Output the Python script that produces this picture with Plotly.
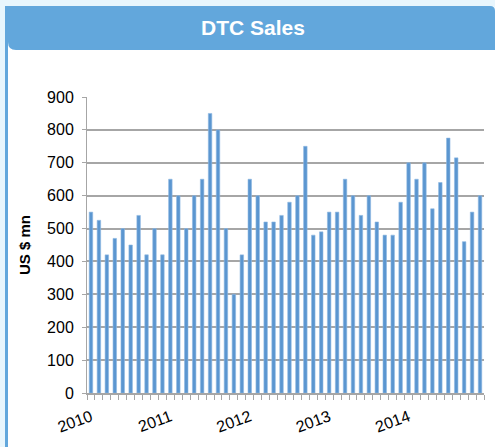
import plotly.graph_objects as go

# ---- data ----
months = list(range(50))
sales = [550, 525, 420, 470, 500, 450, 540, 420, 500, 420,
         650, 600, 500, 600, 650, 850, 800, 500, 300, 420,
         650, 600, 520, 520, 540, 580, 600, 750, 480, 490,
         550, 550, 650, 600, 540, 600, 520, 480, 480, 580,
         700, 650, 700, 560, 640, 775, 715, 460, 550, 600]
year_ticks = [0, 10, 20, 30, 40]
year_labels = ["2010", "2011", "2012", "2013", "2014"]
y_ticks = list(range(0, 901, 100))

W, H = 495, 447
L, R, T, B = 87, 484, 97, 393


def px(x):
    return (x - L) / (R - L)


def py(y):
    return (B - y) / (B - T)


fig = go.Figure()
fig.add_trace(go.Bar(
    x=months, y=sales,
    marker=dict(color="#5b96d0", line=dict(color="#8fb8e2", width=0.6)),
    width=0.44,
    hoverinfo="x+y",
))

shapes = []
# white content panel
shapes.append(dict(type="rect", xref="paper", yref="paper",
                   x0=px(8), x1=px(W + 2), y0=py(H + 2), y1=py(44),
                   fillcolor="white", line=dict(width=0), layer="below"))
# left blue border line
shapes.append(dict(type="rect", xref="paper", yref="paper",
                   x0=px(5), x1=px(8), y0=py(H + 2), y1=py(6),
                   fillcolor="#62a7dc", line=dict(width=0), layer="below"))


def P(x, y):
    return f"{px(x):.5f},{py(y):.5f}"


# header band with rounded bottom-left and top-right corners
hx0, hx1, hy0, hy1 = 5, W, 6, 50
r1 = 8
r2 = 5
path = (f"M {P(hx0, hy0)} L {P(hx1 - r2, hy0)} "
        f"Q {P(hx1, hy0)} {P(hx1, hy0 + r2)} "
        f"L {P(hx1, hy1)} L {P(8 + r1, hy1)} "
        f"Q {P(8, hy1)} {P(8, hy1 - r1)} "
        f"L {P(8, hy1 + 2)} L {P(hx0, hy1 + 2)} Z")
shapes.append(dict(type="path", xref="paper", yref="paper", path=path,
                   fillcolor="#62a7dc", line=dict(width=0), layer="below"))

fig.update_layout(
    width=W, height=H,
    margin=dict(l=L, r=W - R, t=T, b=H - B, pad=0, autoexpand=False),
    paper_bgcolor="#e8f6fd",
    plot_bgcolor="rgba(0,0,0,0)",
    shapes=shapes,
    showlegend=False,
    font=dict(family="Liberation Sans, Arial, sans-serif", color="#000000"),
    annotations=[dict(
        text="<b>DTC Sales</b>", xref="paper", yref="paper",
        x=px(253), y=py(27), xanchor="center", yanchor="middle",
        showarrow=False,
        font=dict(family="Liberation Sans, Arial", size=21, color="white"),
    )],
)

fig.update_xaxes(
    range=[-0.5, 49.5], automargin=False,
    tickmode="array", tickvals=year_ticks, ticktext=year_labels,
    tickangle=-20, tickfont=dict(size=16), ticklabelstandoff=7,
    ticks="", showgrid=False, zeroline=False,
    showline=True, linecolor="#a6a6a6", linewidth=1.5,
    minor=dict(tickmode="linear", tick0=-0.5, dtick=1, ticks="outside",
               ticklen=5, tickcolor="#a6a6a6", showgrid=False),
)
fig.update_yaxes(
    range=[0, 900], tickmode="array", tickvals=y_ticks, automargin=False,
    tickfont=dict(size=16), ticklabelstandoff=5,
    showgrid=True, gridcolor="#a6a6a6", gridwidth=1.5,
    zeroline=False,
    showline=True, linecolor="#a6a6a6", linewidth=1,
    ticks="outside", ticklen=4, tickcolor="#a6a6a6",
    title=dict(text="<b>US $ mn</b>", font=dict(size=15), standoff=12),
)

fig.write_html(
    "out.html",
    config={"displayModeBar": False},
    post_script="document.body.style.margin='0';document.body.style.overflow='hidden';document.body.style.background='#e8f6fd';",
)
